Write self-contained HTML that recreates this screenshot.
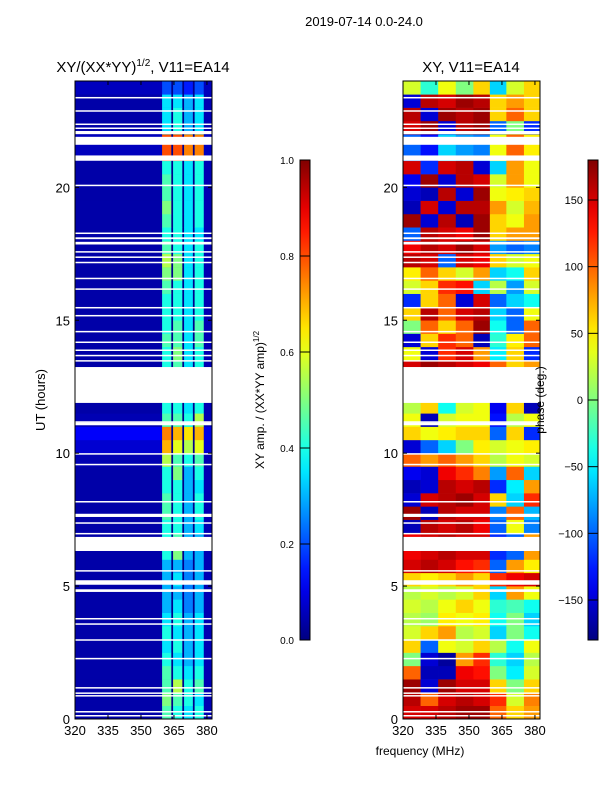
<!DOCTYPE html>
<html><head><meta charset="utf-8"><style>
body{margin:0;background:#fff;}
svg text{font-family:"Liberation Sans",sans-serif;fill:#000;}
</style></head><body>
<svg id="fig" width="600" height="800" viewBox="0 0 600 800" xmlns="http://www.w3.org/2000/svg">
<rect width="600" height="800" fill="#fff"/>
<text x="364" y="26" font-size="13" text-anchor="middle">2019-07-14 0.0-24.0</text>
<text x="143" y="72" font-size="15" text-anchor="middle">XY/(XX*YY)<tspan font-size="10" dy="-6">1/2</tspan><tspan dy="6">, V11=EA14</tspan></text>
<text x="471" y="72" font-size="15" text-anchor="middle">XY, V11=EA14</text>
<rect x="75" y="81" width="137" height="638" fill="rgb(0,0,140)"/>
<g id="leftPanel"></g>
<g id="rightPanel"></g>
<g id="axes"></g>
<text transform="translate(45,400) rotate(-90)" font-size="13" text-anchor="middle">UT (hours)</text>
<text x="420" y="755" font-size="12" text-anchor="middle">frequency (MHz)</text>
<text transform="translate(264,400) rotate(-90)" font-size="12" text-anchor="middle">XY amp. / (XX*YY amp)<tspan font-size="8" dy="-5">1/2</tspan></text>
<text transform="translate(544,400) rotate(-90)" font-size="12" text-anchor="middle">phase (deg.)</text>
</svg>
<script>
// ---- data ----
const hourRows = [0,0.5,1,1.5,2,2.5,3,3.5,4,4.5,5,5.5,6,6.5,7,7.5,8,8.5,9,9.5,10,10.5,11,11.5,12,12.5,13,13.5,14,14.5,15,15.5,16,16.5,17,17.5,18,18.5,19,19.5,20,20.5,21,21.5,22,22.5,23,23.5];
const phaseFreqEdges = [320,328,336,344,352,359.5,367,375,382.3];
const phaseValues = [
[150,150,160,170,170,100,60,80],[160,100,150,160,150,120,30,90],[170,-150,170,150,150,60,0,60],[100,-160,-160,140,130,0,-50,30],
[0,-150,-170,80,120,-30,-60,20],[60,-100,40,30,60,20,-40,40],[30,60,80,20,30,-60,0,-40],[20,10,50,40,50,-40,0,-60],
[30,20,40,60,40,-30,-20,-40],[20,30,20,30,60,-60,80,40],[60,50,60,80,60,120,140,150],[150,160,150,130,120,-100,80,50],
[140,150,160,150,150,-120,-100,80],[140,150,160,150,150,-120,-100,80],[-160,160,150,160,140,-100,40,-90],[170,-160,160,150,150,-90,100,-70],
[-150,150,160,170,150,60,-60,120],[-160,-150,160,150,160,-120,-50,80],[-140,-150,140,120,90,-80,100,-60],[100,80,100,80,60,20,40,30],
[-150,-100,-60,0,50,30,40,50],[60,40,50,60,60,-100,60,-120],[40,-160,30,40,40,-130,20,40],[20,60,-40,30,40,-140,60,-160],
[20,20,20,20,20,20,20,20],[20,20,20,20,20,20,20,20],[150,170,160,150,140,100,60,80],[40,-150,120,150,80,-50,60,-120],
[-150,60,120,100,-160,-30,50,100],[0,100,60,100,170,-40,-100,100],[60,160,100,150,160,-60,-100,40],[-120,60,100,-150,150,-100,-60,-40],
[30,60,120,130,-60,20,-80,30],[50,100,60,30,80,-60,-40,60],[160,150,-100,150,140,60,30,40],[140,160,150,170,150,-80,-100,-90],
[-100,160,150,140,170,60,80,80],[170,-150,160,-160,170,60,40,80],[-160,150,-150,160,160,80,30,70],[-150,-160,160,-150,170,40,50,60],
[-140,170,-150,160,150,30,80,40],[150,-120,150,160,-150,-60,80,40],[-100,-130,-60,-80,-90,40,100,50],[-100,-130,-60,-80,-90,40,100,50],
[150,170,-150,160,170,-100,0,-120],[160,-150,170,160,170,60,100,60],[-150,160,150,170,160,60,80,60],[30,-30,40,0,60,-60,30,60]
];
const ampBandEdges = [[320,359.6],[359.6,363.8],[364.6,368.8],[369.6,373.6],[374.4,378.6],[378.6,382.3]];
const ampValues = [
[0.04,0.45,0.40,0.35,0.40,0.05],[0.04,0.50,0.45,0.40,0.35,0.05],[0.04,0.45,0.55,0.40,0.45,0.05],[0.04,0.45,0.40,0.35,0.40,0.05],
[0.04,0.40,0.35,0.30,0.35,0.05],[0.04,0.35,0.40,0.30,0.35,0.05],[0.04,0.40,0.35,0.30,0.35,0.05],[0.04,0.35,0.40,0.30,0.35,0.05],
[0.04,0.30,0.35,0.25,0.30,0.05],[0.04,0.30,0.30,0.25,0.30,0.05],[0.04,0.30,0.35,0.25,0.30,0.05],[0.04,0.30,0.30,0.25,0.30,0.05],
[0.04,0.40,0.50,0.30,0.30,0.05],[0.04,0.40,0.45,0.30,0.30,0.05],[0.04,0.40,0.40,0.30,0.35,0.05],[0.04,0.45,0.40,0.30,0.40,0.05],
[0.04,0.45,0.40,0.30,0.40,0.05],[0.04,0.40,0.40,0.30,0.35,0.05],[0.04,0.40,0.50,0.30,0.40,0.05],[0.05,0.55,0.45,0.40,0.45,0.05],
[0.08,0.70,0.60,0.55,0.60,0.08],[0.12,0.75,0.70,0.65,0.70,0.10],[0.05,0.45,0.45,0.40,0.55,0.05],[0.04,0.40,0.40,0.35,0.40,0.05],
[0.04,0.40,0.40,0.35,0.40,0.05],[0.04,0.40,0.40,0.35,0.40,0.05],[0.04,0.40,0.45,0.35,0.40,0.05],[0.04,0.40,0.50,0.35,0.40,0.05],
[0.04,0.45,0.45,0.35,0.45,0.05],[0.04,0.40,0.45,0.35,0.45,0.05],[0.04,0.40,0.40,0.35,0.40,0.05],[0.04,0.40,0.40,0.35,0.40,0.05],
[0.04,0.45,0.40,0.35,0.40,0.05],[0.04,0.50,0.50,0.35,0.40,0.05],[0.04,0.55,0.50,0.35,0.40,0.05],[0.04,0.45,0.40,0.35,0.40,0.05],
[0.04,0.40,0.40,0.35,0.35,0.05],[0.04,0.45,0.40,0.35,0.40,0.05],[0.04,0.50,0.40,0.35,0.40,0.05],[0.04,0.45,0.40,0.35,0.40,0.05],
[0.04,0.45,0.40,0.35,0.40,0.05],[0.04,0.40,0.40,0.35,0.40,0.05],[0.06,0.80,0.80,0.75,0.75,0.06],[0.06,0.80,0.80,0.75,0.75,0.06],
[0.04,0.35,0.40,0.30,0.35,0.05],[0.04,0.35,0.40,0.30,0.35,0.05],[0.04,0.35,0.35,0.30,0.35,0.05],[0.06,0.20,0.20,0.15,0.20,0.06]
];
const gapRanges = [[11.89,13.24],[6.32,6.85],[21.0,21.2],[21.6,21.9],[5.05,5.22],[4.78,4.88],[7.6,7.72],[11.05,11.15],[22.0,22.12],[17.85,17.95],[18.05,18.12]];
const thinGaps = [23.4,22.9,22.4,22.25,20.1,18.3,17.6,17.4,17.2,16.6,16.2,15.5,15.2,14.6,14.2,13.9,13.7,13.5,11.2,10.0,9.6,8.2,7.4,7.0,5.6,3.8,3.6,3.0,2.3,1.2,1.0,0.9,0.3,0.15];
const freqTicks = [320,335,350,365,380];
const hourTicks = [0,5,10,15,20];
const ampTicks = [0,0.2,0.4,0.6,0.8,1.0];
const phaseTicks = [-150,-100,-50,0,50,100,150];

// ---- helpers ----
const NS="http://www.w3.org/2000/svg";
const fmin=320,fmax=382.3,T0=81,B0=719;
function yH(h){return B0-(h/24)*(B0-T0);}
function xL(f){return 75+(f-fmin)/(fmax-fmin)*137;}
function xR(f){return 403+(f-fmin)/(fmax-fmin)*137;}
function jet(v){v=Math.max(0,Math.min(1,v));
 const r=Math.max(0,Math.min(1,1.5-Math.abs(4*v-3))),g=Math.max(0,Math.min(1,1.5-Math.abs(4*v-2))),b=Math.max(0,Math.min(1,1.5-Math.abs(4*v-1)));
 return `rgb(${Math.round(r*255)},${Math.round(g*255)},${Math.round(b*255)})`;}
function mk(tag,attrs,parent){const e=document.createElementNS(NS,tag);for(const k in attrs)e.setAttribute(k,attrs[k]);parent.appendChild(e);return e;}
const L=document.getElementById('leftPanel'),R=document.getElementById('rightPanel'),A=document.getElementById('axes');

hourRows.forEach((h,i)=>{
 const y1=yH(h+0.5),y0=yH(h);
 ampBandEdges.forEach((be,j)=>{
  const r=mk('rect',{x:xL(be[0]),y:y1,width:xL(be[1])-xL(be[0]),height:y0-y1+0.3,fill:jet(ampValues[i][j])},L);
  
  
 });
 for(let j=0;j<phaseFreqEdges.length-1;j++){
  const r=mk('rect',{x:xR(phaseFreqEdges[j]),y:y1,width:xR(phaseFreqEdges[j+1])-xR(phaseFreqEdges[j])+0.3,height:y0-y1+0.3,fill:jet((phaseValues[i][j]+180)/360)},R);
  
  
 }
});
[[75,L],[403,R]].forEach(([x0,g])=>{
 gapRanges.forEach(gr=>{const r=mk('rect',{x:x0,y:yH(gr[1]),width:137,height:yH(gr[0])-yH(gr[1]),fill:'#fff'},g);
  
  });
 thinGaps.forEach(t=>{const r=mk('rect',{x:x0,y:yH(t),width:137,height:1.5,fill:'#fff'},g);
  
  });
});
// frames and ticks
[[75,xL],[403,xR]].forEach(([x0,fx])=>{
 const fr=mk('rect',{x:x0,y:T0,width:137,height:B0-T0,fill:'none',stroke:'#000','stroke-width':1},A);
 
 
 freqTicks.forEach(f=>{const x=fx(f);
  mk('line',{x1:x,x2:x,y1:B0,y2:B0-4,stroke:'#000'},A);mk('line',{x1:x,x2:x,y1:T0,y2:T0+4,stroke:'#000'},A);
  const t=mk('text',{x:x,y:B0+16,'font-size':13,'text-anchor':'middle'},A);t.textContent=f;
  
  });
 hourTicks.forEach(h=>{const y=yH(h);
  mk('line',{x1:x0,x2:x0+4,y1:y,y2:y,stroke:'#000'},A);mk('line',{x1:x0+137,x2:x0+133,y1:y,y2:y,stroke:'#000'},A);
  const t=mk('text',{x:x0-5,y:y+5,'font-size':13,'text-anchor':'end'},A);t.textContent=h;
  
  });
});
// colorbars
const defs=mk('defs',{},A);const gr=mk('linearGradient',{id:'jetg',x1:0,y1:1,x2:0,y2:0},defs);
for(let k=0;k<=20;k++)mk('stop',{offset:k/20,'stop-color':jet(k/20)},gr);
[[300,'amp-colorbar'],[588,'phase-colorbar']].forEach(([x,n])=>{const r=mk('rect',{x:x,y:160,width:10,height:480,fill:'url(#jetg)',stroke:'#000','stroke-width':1},A);
 
 });
ampTicks.forEach(v=>{const y=640-v*480;mk('line',{x1:300,x2:310,y1:y,y2:y,stroke:'#000'},A);
 const t=mk('text',{x:294,y:y+4,'font-size':10,'text-anchor':'end'},A);t.textContent=v.toFixed(1);
 
 });
phaseTicks.forEach(v=>{const y=640-(v+180)/360*480;mk('line',{x1:588,x2:598,y1:y,y2:y,stroke:'#000'},A);
 const t=mk('text',{x:583,y:y+4,'font-size':11,'text-anchor':'end'},A);t.textContent=v<0?'\u2212'+(-v):v;
 
 });
</script>
</body></html>
